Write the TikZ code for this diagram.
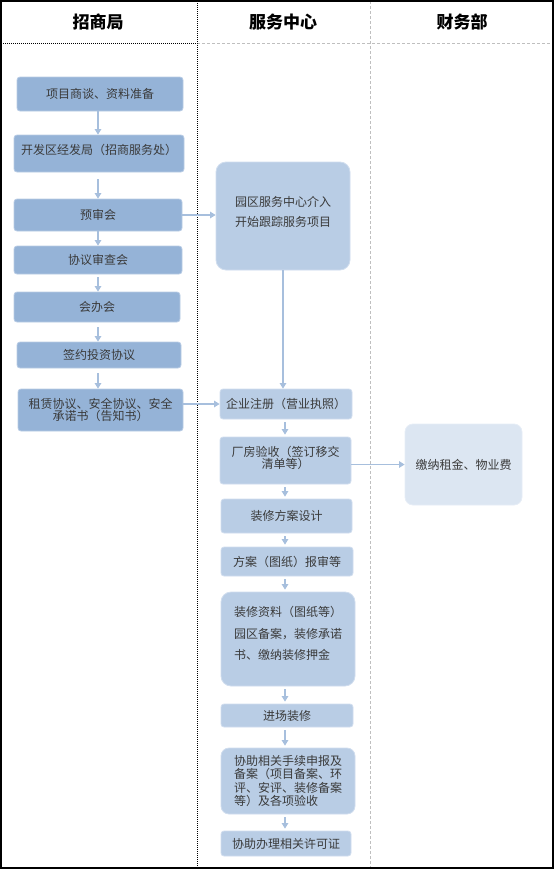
\documentclass[tikz,border=0pt]{standalone}
\usepackage{fontspec}
\setmainfont{Noto Sans CJK SC}
\usetikzlibrary{arrows.meta,calc}
\definecolor{lbox}{HTML}{95B3D7}
\definecolor{lborder}{HTML}{B8CCE4}
\definecolor{sbox}{HTML}{B9CDE5}
\definecolor{sborder}{HTML}{D0DDEE}
\definecolor{fbox}{HTML}{DCE6F2}
\definecolor{fborder}{HTML}{E6EDF6}
\definecolor{arr}{HTML}{A7BFDD}
\definecolor{txt}{HTML}{3A3A3A}
\definecolor{gline}{HTML}{BFBFBF}
\tikzset{
  lb/.style={draw=lborder, fill=lbox, line width=0.8pt, rounded corners=3pt, inner sep=0pt, text=txt, align=center, font=\fontsize{12}{14}\selectfont},
  sb/.style={draw=sborder, fill=sbox, line width=0.8pt, rounded corners=3pt, inner sep=0pt, text=txt, align=center, font=\fontsize{12}{14}\selectfont},
  fb/.style={draw=fborder, fill=fbox, line width=0.8pt, rounded corners=8pt, inner sep=0pt, text=txt, align=center, font=\fontsize{12}{14}\selectfont},
  hd/.style={font=\fontsize{17}{20}\selectfont\bfseries, text=black},
  ar/.style={draw=arr, line width=1.2pt, -{Triangle[width=6.5pt,length=5.5pt]}},
}
\begin{document}
\begin{tikzpicture}[x=1pt,y=-1pt]
\useasboundingbox (0,0) rectangle (554,870);
% frame
\draw[gline, line width=0.8pt, dash pattern=on 3pt off 2pt] (197,43) -- (553,43);
\draw[gline, line width=0.8pt, dash pattern=on 3pt off 2pt] (370,1) -- (370,868);
\draw[black, line width=0.9pt, dash pattern=on 1pt off 1pt] (1,43) -- (197,43);
\draw[black, line width=0.9pt, dash pattern=on 1pt off 1pt] (197,1) -- (197,868);
\draw[black, line width=1.3pt] (1,1) rectangle (553,868);
% headers
\node[hd] (h1) at (98,22) {招商局};
\node[hd] (h2) at (283,22) {服务中心};
\node[hd] (h3) at (462,22) {财务部};
% left column
\node[lb, minimum width=166pt, minimum height=34pt] (l1) at (100,94) {项目商谈、资料准备};
\node[lb, minimum width=170pt, minimum height=37pt, text depth=8pt] (l2) at (99,153.5) {开发区经发局（招商服务处）};
\node[lb, minimum width=168pt, minimum height=32pt] (l3) at (98,215) {预审会};
\node[lb, minimum width=168pt, minimum height=28pt] (l4) at (98,260) {协议审查会};
\node[lb, minimum width=166pt, minimum height=30pt] (l5) at (97,307) {会办会};
\node[lb, minimum width=164pt, minimum height=26pt] (l6) at (99,355) {签约投资协议};
\node[lb, minimum width=165pt, minimum height=42pt, font=\fontsize{12}{12.5}\selectfont] (l7) at (100.5,410) {租赁协议、安全协议、安全\\承诺书（告知书）};
% service column
\node[sb, rounded corners=10pt, minimum width=134pt, minimum height=108pt, align=left, font=\fontsize{12}{20}\selectfont, text depth=10pt] (a) at (283,216) {园区服务中心介入\\开始跟踪服务项目};
\node[sb, minimum width=132pt, minimum height=30pt] (b) at (286,404) {企业注册（营业执照）};
\node[sb, minimum width=131pt, minimum height=47pt, font=\fontsize{12}{12}\selectfont, text depth=6pt] (c) at (285.5,460.5) {厂房验收（签订移交\\清单等）};
\node[fb, minimum width=117pt, minimum height=81pt] (d) at (463.5,464.5) {缴纳租金、物业费};
\node[sb, minimum width=131pt, minimum height=34pt] (e) at (286.5,516) {装修方案设计};
\node[sb, minimum width=132pt, minimum height=29pt] (f) at (287,561.5) {方案（图纸）报审等};
\node[sb, rounded corners=10pt, minimum width=134pt, minimum height=94pt, align=left, font=\fontsize{12}{21.5}\selectfont, text depth=12pt] (g) at (288,639) {装修资料（图纸等）\\园区备案，装修承诺\\书、缴纳装修押金};
\node[sb, minimum width=132pt, minimum height=23pt] (h) at (287,715.5) {进场装修};
\node[sb, rounded corners=8pt, minimum width=134pt, minimum height=66pt, align=left, font=\fontsize{12}{13.4}\selectfont] (i) at (288,781) {协助相关手续申报及\\备案（项目备案、环\\评、安评、装修备案\\等）及各项验收};
\node[sb, minimum width=130pt, minimum height=25pt] (j) at (286,843.5) {协助办理相关许可证};
% left arrows
\draw[ar] (l1.south -| 98,0) -- (l2.north -| 98,0);
\draw[ar, shorten <=7pt] (l2.south -| 98,0) -- (l3.north -| 98,0);
\draw[ar] (l3.south -| 98,0) -- (l4.north -| 98,0);
\draw[ar, shorten <=3pt] (l4.south -| 98,0) -- (l5.north -| 98,0);
\draw[ar, shorten <=5pt] (l5.south -| 98,0) -- (l6.north -| 98,0);
\draw[ar, shorten <=5pt] (l6.south -| 98,0) -- (l7.north -| 98,0);
% cross arrows
\draw[ar] (l3.east) -- (l3.east -| a.west);
\draw[ar] (l7.east |- b.west) -- (b.west);
\draw[ar] (c.east |- d.west) -- (d.west);
% service arrows
\draw[ar] (a.south) -- (a.south |- b.north);
\draw[ar, shorten <=3pt, shorten >=2pt] (b.south -| 285,0) -- (c.north -| 285,0);
\draw[ar, shorten <=3pt, shorten >=2pt] (c.south -| 285,0) -- (e.north -| 285,0);
\draw[ar, shorten <=3pt, shorten >=2pt] (e.south -| 285,0) -- (f.north -| 285,0);
\draw[ar, shorten <=3pt, shorten >=2pt] (f.south -| 285,0) -- (g.north -| 285,0);
\draw[ar, shorten <=3pt, shorten >=2pt] (g.south -| 285,0) -- (h.north -| 285,0);
\draw[ar, shorten <=3pt, shorten >=2pt] (h.south -| 285,0) -- (i.north -| 285,0);
\draw[ar, shorten <=3pt, shorten >=2pt] (i.south -| 285,0) -- (j.north -| 285,0);
\end{tikzpicture}
\end{document}
